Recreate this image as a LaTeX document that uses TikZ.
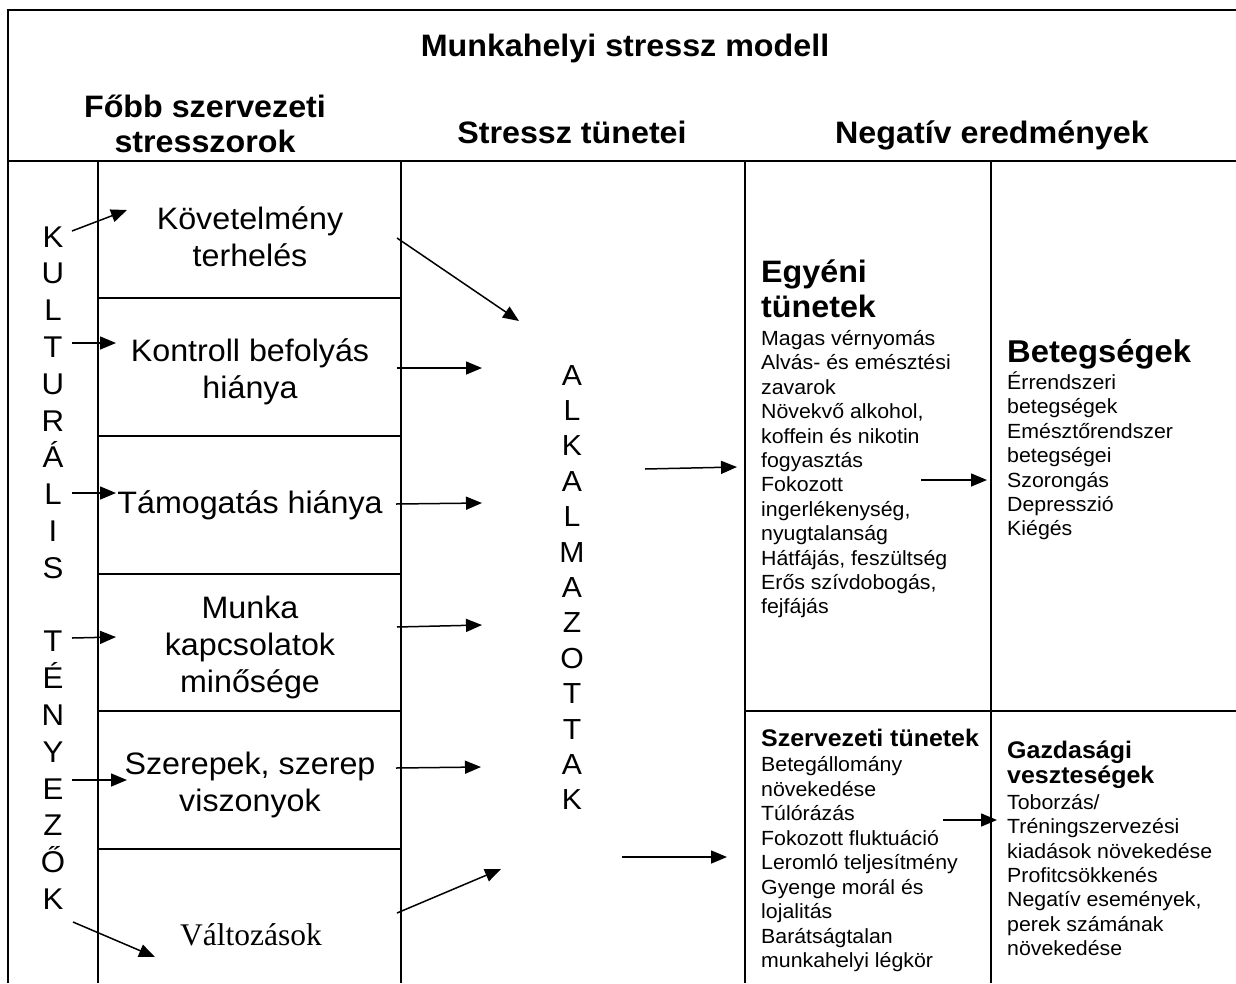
\documentclass[tikz,border=0pt]{standalone}
\usepackage{fontspec}
\setmainfont[FakeStretch=1.04]{Liberation Sans}
\newfontfamily\serifx{Liberation Serif}
\usetikzlibrary{arrows.meta}
\newcommand\fsz[2]{\fontsize{#1pt}{#2pt}\selectfont}
\begin{document}
\begin{tikzpicture}[x=1pt,y=-1pt,
  gridline/.style={line width=2pt},
  frameline/.style={line width=2.6pt},
  arr/.style={line width=1.5pt,-{Triangle[length=16pt,width=13pt]}},
  hdr/.style={font=\bfseries\fsz{31}{35},align=center,inner sep=0pt,anchor=base},
  stress/.style={font=\fsz{31}{37},align=center,inner sep=0pt,anchor=base},
  vert/.style={align=center,inner sep=0pt,anchor=base},
  listh/.style={align=left,inner sep=0pt,anchor=base west},
  listb/.style={font=\fsz{20.5}{24.4},align=left,inner sep=0pt,anchor=base west}]
\useasboundingbox (0,0) rectangle (1236,983);
% frame and grid
\draw[frameline] (8,983) -- (8,10) -- (1236,10);
\draw[gridline] (8,161) -- (1236,161);
\foreach \xx in {98,401,745,991} \draw[gridline] (\xx,161) -- (\xx,983);
\foreach \yy in {298,436,574,711,849} \draw[gridline] (98,\yy) -- (401,\yy);
\draw[gridline] (745,711) -- (1236,711);
% headers (base anchor = baseline of last line)
\node[hdr] (title) at (625,56) {Munkahelyi stressz modell};
\node[hdr] (hdrA) at (205,152) {Főbb szervezeti\\stresszorok};
\node[hdr] (hdrB) at (572,143) {Stressz tünetei};
\node[hdr] (hdrC) at (992,143) {Negatív eredmények};
% vertical words
\node[vert,font=\fsz{30}{36.8}] (kult) at (53,909.4) {K\\U\\L\\T\\U\\R\\Á\\L\\I\\S\\\mbox{}\\T\\É\\N\\Y\\E\\Z\\Ő\\K};
\node[vert,font=\fsz{29}{35.4}] (alk) at (572,809.8) {A\\L\\K\\A\\L\\M\\A\\Z\\O\\T\\T\\A\\K};
% stressors
\node[stress] (s1) at (250,266) {Követelmény\\terhelés};
\node[stress] (s2) at (250,398) {Kontroll befolyás\\hiánya};
\node[stress] (s3) at (250,513) {Támogatás hiánya};
\node[stress] (s4) at (250,692) {Munka\\kapcsolatok\\minősége};
\node[stress] (s5) at (250,811) {Szerepek, szerep\\viszonyok};
\node[stress,font=\serifx\fsz{31.5}{37}] (s6) at (251,945) {Változások};
% outcome columns
\node[listh,font=\bfseries\fsz{31}{35}] (egyH) at (761,317) {Egyéni\\tünetek};
\node[listb] (egyB) at (761,613.9) {Magas vérnyomás\\Alvás- és emésztési\\zavarok\\Növekvő alkohol,\\koffein és nikotin\\fogyasztás\\Fokozott\\ingerlékenység,\\nyugtalanság\\Hátfájás, feszültség\\Erős szívdobogás,\\fejfájás};
\node[listh,font=\bfseries\fsz{31.5}{35}] (betH) at (1007,362) {Betegségek};
\node[listb] (betB) at (1007,535.9) {Érrendszeri\\betegségek\\Emésztőrendszer\\betegségei\\Szorongás\\Depresszió\\Kiégés};
\node[listh,font=\bfseries\fsz{24}{25}] (szH) at (761,746.5) {Szervezeti tünetek};
\node[listb,font=\fsz{20.5}{24.5}] (szB) at (761,967.5) {Betegállomány\\növekedése\\Túlórázás\\Fokozott fluktuáció\\Leromló teljesítmény\\Gyenge morál és\\lojalitás\\Barátságtalan\\munkahelyi légkör};
\node[listh,font=\bfseries\fsz{24}{25}] (gazH) at (1007,783.5) {Gazdasági\\veszteségek};
\node[listb,font=\fsz{20.5}{24.3}] (gazB) at (1007,955.3) {Toborzás/\\Tréningszervezési\\kiadások növekedése\\Profitcsökkenés\\Negatív események,\\perek számának\\növekedése};
% arrow end points
\coordinate (l1a) at (72,231); \coordinate (l1b) at (127,210);
\coordinate (l2a) at (72,343); \coordinate (l2b) at (116,343);
\coordinate (l3a) at (72,493); \coordinate (l3b) at (116,493);
\coordinate (l4a) at (72,638); \coordinate (l4b) at (116,637);
\coordinate (l5a) at (72,780); \coordinate (l5b) at (127,780);
\coordinate (l6a) at (73,922); \coordinate (l6b) at (155,957);
\coordinate (m1a) at (397,238); \coordinate (m1b) at (519,321);
\coordinate (m2a) at (397,368); \coordinate (m2b) at (482,368);
\coordinate (m3a) at (396,504); \coordinate (m3b) at (482,503);
\coordinate (m4a) at (397,627); \coordinate (m4b) at (482,625);
\coordinate (m5a) at (396,768); \coordinate (m5b) at (481,767);
\coordinate (m6a) at (397,913); \coordinate (m6b) at (501,869);
\coordinate (r1a) at (645,469); \coordinate (r1b) at (737,467);
\coordinate (r2a) at (622,857); \coordinate (r2b) at (727,857);
\coordinate (e1a) at (921,480); \coordinate (e1b) at (987,480);
\coordinate (e2a) at (943,820); \coordinate (e2b) at (997,820);
\foreach \p in {l1,l2,l3,l4,l5,l6,m1,m2,m3,m4,m5,m6,r1,r2,e1,e2}
  \draw[arr] (\p a) -- (\p b);
\end{tikzpicture}
\end{document}
